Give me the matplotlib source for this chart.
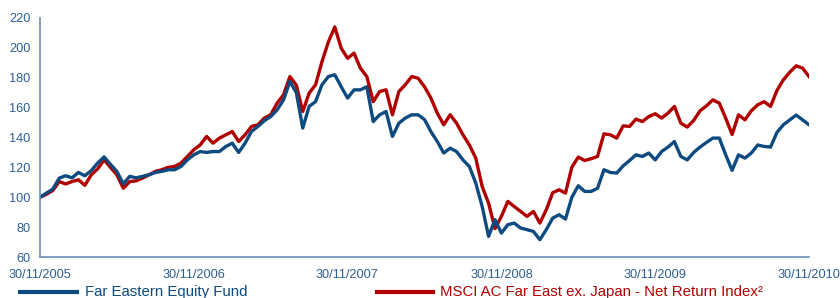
import pandas as pd
import matplotlib
matplotlib.use("Agg")
import matplotlib.pyplot as plt
import matplotlib.dates as mdates
from matplotlib.lines import Line2D

# Half-monthly readings, 30/11/2005 -> 30/11/2010, rebased to 100
fund = [100, 102.8, 105.5, 112.8, 114.4, 113, 116.6, 114.4, 117.9, 122.9,
        127, 122, 117.3, 109, 114, 113, 114, 115, 116.6, 117.3,
        118.4, 118.4, 120.6, 125, 128.4, 130.6, 130, 130.6, 130.6, 134,
        136.2, 130, 136.2, 144, 147.4, 151.2, 154, 158.5, 165.2, 177.5,
        170, 146.3, 160.8, 164, 175.3, 180.8, 182, 174, 166.4, 171.9,
        171.9, 174, 150.7, 155.2, 157.4, 140.7, 149.6, 153, 155.2, 155.2,
        152, 144, 137.3, 129.6, 132.9, 130.6, 125, 120.6, 109.5, 93.8,
        73.8, 85, 76, 81.6, 82.7, 79.4, 78.3, 77.1, 71.6, 78.3,
        86, 88.3, 85.4, 100.1, 107.7, 103.9, 103.9, 106, 118.4, 116.6,
        116.2, 121, 124.6, 128.4, 127.3, 129.6, 125, 130.6, 133.6, 137.3,
        127.3, 125, 130, 133.6, 136.7, 139.6, 139.6, 128.4, 118, 128.4,
        126.2, 129.6, 135, 134, 133.6, 143.4, 148.5, 151.8, 155, 151.8,
        148.5]

index = [100, 102, 104.5, 110.5, 108.9, 110.5, 111.7, 108, 115, 119,
         125, 120, 115, 106, 110.5, 111, 112.8, 115, 117.3, 118.4,
         120, 120.6, 122.9, 127.3, 131.8, 135, 140.7, 136.2, 139.6, 141.8,
         144, 137.3, 141.8, 147.4, 148.5, 153, 155.2, 163, 168.6, 180.8,
         175, 157.4, 169.7, 175.3, 190.8, 204, 214, 199.8, 193, 196.5,
         186.4, 180.8, 164, 170.8, 171.9, 155.2, 170.8, 175.3, 180.8, 179.7,
         174, 166.4, 156.3, 148.5, 155.2, 149.6, 141.8, 135, 126.2, 107.2,
         96, 79, 87.2, 97.2, 93.8, 90.5, 87.2, 90.5, 82.7, 91.6,
         103, 105, 102.8, 120.2, 126.9, 124.6, 125.8, 127.3, 142.5, 141.8,
         139.6, 147.8, 147.4, 152.3, 150.7, 154, 155.9, 153, 156.3, 160.8,
         149.6, 147, 151.4, 157.9, 161.2, 165.2, 163, 153, 142, 155.2,
         151.8, 157.9, 161.9, 164, 160.8, 171.5, 178.6, 183.7, 188, 186.4,
         180.8]

dates = pd.date_range("2005-11-30", "2010-11-30", periods=len(fund))
tick_dates = pd.to_datetime(["2005-11-30", "2006-11-30", "2007-11-30",
                             "2008-11-30", "2009-11-30", "2010-11-30"])
y_ticks = [60, 80, 100, 120, 140, 160, 180, 200, 220]

fund_label = "Far Eastern Equity Fund"
index_label = "MSCI AC Far East ex. Japan - Net Return Index\u00b2"

BLUE = "#0d4a80"
RED = "#b00000"
AXIS = "#6a8fb8"
TEXT = "#2d5e90"

plt.rcParams["font.family"] = ["Liberation Sans", "DejaVu Sans"]

fig = plt.figure(figsize=(8.4, 2.98), dpi=100)
ax = fig.add_axes([40 / 840, 41 / 298, 769 / 840, 239 / 298])

ax.plot(dates, index, color=RED, lw=2.4, solid_joinstyle="round")
ax.plot(dates, fund, color=BLUE, lw=2.4, solid_joinstyle="round")

ax.set_xlim(tick_dates[0], tick_dates[-1])
ax.set_ylim(60, 220)
ax.set_xticks(tick_dates)
ax.xaxis.set_major_formatter(mdates.DateFormatter("%d/%m/%Y"))
ax.set_yticks(y_ticks)

for side in ["top", "right"]:
    ax.spines[side].set_visible(False)
for side in ["left", "bottom"]:
    ax.spines[side].set_color(AXIS)
    ax.spines[side].set_linewidth(1.2)

ax.tick_params(axis="both", length=0, labelsize=9.2, labelcolor=TEXT)
ax.tick_params(axis="y", pad=7)
ax.tick_params(axis="x", pad=9)

# legend drawn along the bottom edge
leg_y = 6 / 298
fig.add_artist(Line2D([20 / 840, 77 / 840], [leg_y, leg_y], color=BLUE, lw=3,
                      transform=fig.transFigure))
fig.text(85 / 840, leg_y, fund_label, color=BLUE, fontsize=10.8, va="center")
fig.add_artist(Line2D([377 / 840, 433 / 840], [leg_y, leg_y], color=RED, lw=3,
                      transform=fig.transFigure))
fig.text(440 / 840, leg_y, index_label, color=RED, fontsize=10.8, va="center")

fig.savefig("out.png", dpi=100)
